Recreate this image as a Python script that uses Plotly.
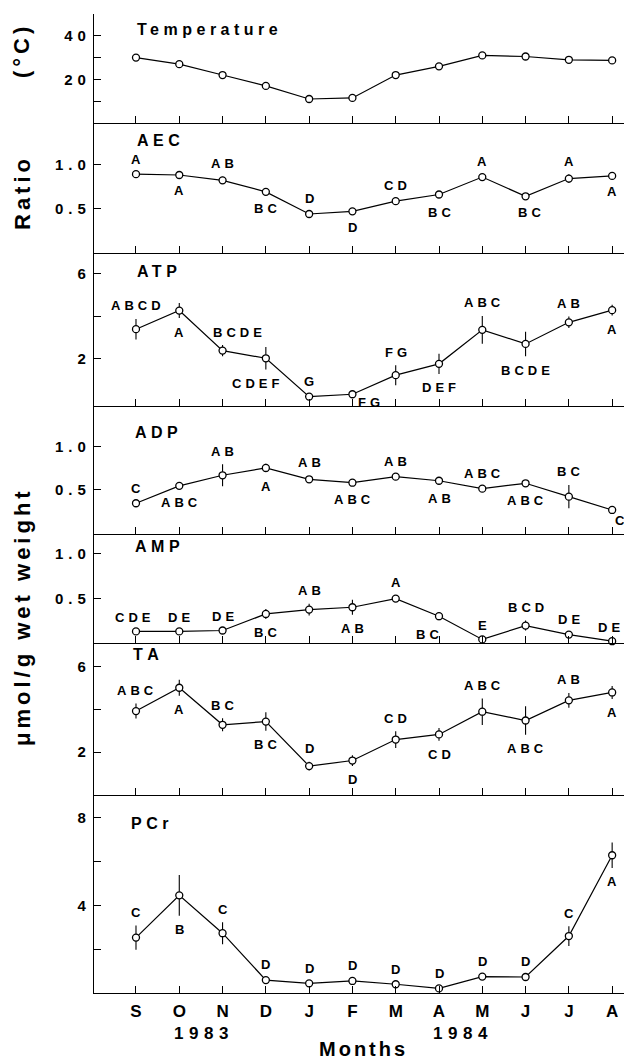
import plotly.graph_objects as go

# ---------------- data ----------------
months = ["S", "O", "N", "D", "J", "F", "M", "A", "M", "J", "J", "A"]
years = ["1983", "1984"]

temperature = [30, 27, 22, 17, 11, 11.5, 22, 26, 31, 30.5, 29, 28.7]

aec = [0.89, 0.88, 0.82, 0.69, 0.44, 0.47, 0.585, 0.66, 0.857, 0.64, 0.84, 0.87]
aec_err = [0.02, 0.02, 0.04, 0.03, 0.03, 0.02, 0.03, 0.04, 0.03, 0.03, 0.05, 0.02]
aec_letters = ["A", "A", "AB", "BC", "D", "D", "CD", "BC", "A", "BC", "A", "A"]

atp = [3.39, 4.26, 2.39, 2.03, 0.24, 0.35, 1.24, 1.77, 3.36, 2.70, 3.71, 4.28]
atp_err = [0.48, 0.35, 0.26, 0.53, 0.08, 0.10, 0.47, 0.47, 0.65, 0.57, 0.27, 0.25]
atp_letters = ["ABCD", "A", "BCDE", "CDEF", "G", "FG", "FG", "DEF", "ABC", "BCDE", "AB", "A"]

adp = [0.336, 0.54, 0.664, 0.75, 0.617, 0.577, 0.648, 0.60, 0.507, 0.57, 0.413, 0.257]
adp_err = [0.02, 0.03, 0.13, 0.05, 0.04, 0.03, 0.03, 0.04, 0.02, 0.04, 0.137, 0.02]
adp_letters = ["C", "ABC", "AB", "A", "AB", "ABC", "AB", "AB", "ABC", "ABC", "BC", "C"]

amp = [0.13, 0.13, 0.14, 0.325, 0.374, 0.40, 0.497, 0.30, 0.04, 0.195, 0.094, 0.02]
amp_err = [0.01, 0.01, 0.01, 0.056, 0.065, 0.084, 0.03, 0.045, 0.01, 0.056, 0.02, 0.01]
amp_letters = ["CDE", "DE", "DE", "BC", "AB", "AB", "A", "BC", "E", "BCD", "DE", "DE"]

ta = [3.92, 5.01, 3.28, 3.43, 1.35, 1.61, 2.59, 2.83, 3.89, 3.48, 4.42, 4.79]
ta_err = [0.35, 0.37, 0.30, 0.43, 0.20, 0.25, 0.39, 0.30, 0.62, 0.66, 0.35, 0.30]
ta_letters = ["ABC", "A", "BC", "BC", "D", "D", "CD", "CD", "ABC", "ABC", "AB", "A"]

pcr = [2.53, 4.46, 2.73, 0.59, 0.44, 0.55, 0.40, 0.21, 0.75, 0.73, 2.60, 6.29]
pcr_err = [0.55, 0.93, 0.50, 0.10, 0.10, 0.10, 0.10, 0.10, 0.10, 0.10, 0.45, 0.58]
pcr_letters = ["C", "B", "C", "D", "D", "D", "D", "D", "D", "D", "C", "A"]

# ---------------- layout helpers (page pixel coordinates) ----------------
OFF = 8                       # default body margin of the html page
PAGE_W, PAGE_H = 632, 1063
W, H = PAGE_W - OFF, PAGE_H - OFF
PLOT_L, PLOT_R, PLOT_T, PLOT_B = 94, 626, 14, 993   # page px
ML = PLOT_L - OFF
MT = PLOT_T - OFF
MR = (OFF + W) - PLOT_R
MB = (OFF + H) - PLOT_B
PW = PLOT_R - PLOT_L
PH = PLOT_B - PLOT_T
FONT = "Liberation Sans, Arial, sans-serif"
XR = [-0.97, 11.32]

ALT = ["a", "b"] * 6


def spaced(text, ls):
    if len(text) <= 1:
        return text
    return '<span style="letter-spacing:%gpx">%s</span>%s' % (ls, text[:-1], text[-1])


def px_x(px):
    return (px - PLOT_L) / PW


def px_y(py):
    return (PLOT_B - py) / PH


panels = [
    dict(name="Temperature", y=temperature, err=None, letters=None, sides=None,
         top=14, bot=123, rng=[0, 50], tv=[10, 20, 30, 40, 50], tt=["", "20", "", "40", ""],
         lab=(135, 30)),
    dict(name="AEC", y=aec, err=aec_err, letters=aec_letters, sides=ALT,
         top=123, bot=253, rng=[0, 1.467], tv=[0.5, 1.0], tt=["0.5", "1.0"],
         lab=(135, 140), dx={9: 4}),
    dict(name="ATP", y=atp, err=atp_err, letters=atp_letters, sides=ALT,
         top=253, bot=406, rng=[-0.2, 6.95], tv=[2, 4, 6], tt=["2", "", "6"],
         lab=(135, 271), dx={2: 15, 3: -10, 5: 17}, dy={5: -8}),
    dict(name="ADP", y=adp, err=adp_err, letters=adp_letters, sides=ALT,
         top=406, bot=534, rng=[-0.025, 1.477], tv=[0.5, 1.0], tt=["0.5", "1.0"],
         lab=(133, 432), dx={11: 8}, dy={11: -11}),
    dict(name="AMP", y=amp, err=amp_err, letters=amp_letters,
         sides=["a", "a", "a", "b", "a", "b", "a", "b", "a", "a", "a", "a"],
         top=534, bot=643, rng=[0, 1.22], tv=[0.5, 1.0], tt=["0.5", "1.0"],
         lab=(133, 546), dx={0: -3, 7: -12, 11: -3}),
    dict(name="TA", y=ta, err=ta_err, letters=ta_letters, sides=ALT,
         top=643, bot=795, rng=[0, 7.1], tv=[2, 4, 6], tt=["2", "", "6"],
         lab=(131, 654)),
    dict(name="PCr", y=pcr, err=pcr_err, letters=pcr_letters,
         sides=["a", "b", "a", "a", "a", "a", "a", "a", "a", "a", "a", "b"],
         top=795, bot=PLOT_B, rng=[0, 9.04], tv=[2, 4, 6, 8], tt=["", "4", "", "8"],
         lab=(129, 823)),
]

fig = go.Figure()
annotations = []
layout = {}
xs = list(range(len(months)))
n = len(panels)

for i, p in enumerate(panels, start=1):
    xa = "x" if i == 1 else "x%d" % i
    ya = "y" if i == 1 else "y%d" % i
    kx = "xaxis" if i == 1 else "xaxis%d" % i
    ky = "yaxis" if i == 1 else "yaxis%d" % i

    err = dict(type="data", array=p["err"], visible=True, color="black",
               thickness=1.1, width=0) if p["err"] else None
    fig.add_trace(go.Scatter(
        x=xs, y=p["y"], xaxis=xa, yaxis=ya, mode="lines+markers",
        line=dict(color="black", width=1.2),
        marker=dict(symbol="circle", size=7, color="white",
                    line=dict(color="black", width=1.3)),
        error_y=err, showlegend=False, cliponaxis=False,
    ))

    last = i == n
    layout[kx] = dict(
        domain=[0, 1], anchor=ya, range=XR, tickmode="array", tickvals=xs,
        ticktext=months, showticklabels=last, ticks="inside", ticklen=7,
        tickwidth=1.1, tickcolor="black", showline=True, linecolor="black",
        linewidth=1.2, showgrid=False, zeroline=False, fixedrange=True,
        tickfont=dict(family=FONT, size=17, color="black", weight="bold"),
        ticklabelstandoff=2,
    )
    layout[ky] = dict(
        domain=[px_y(p["bot"]), px_y(p["top"])], anchor=xa, range=p["rng"],
        tickmode="array", tickvals=p["tv"], ticktext=[spaced(t, 5) for t in p["tt"]],
        ticks="inside", ticklen=7, tickwidth=1.1, tickcolor="black",
        showline=True, mirror=True, linecolor="black", linewidth=1.2,
        showgrid=False, zeroline=False, fixedrange=True,
        tickfont=dict(family=FONT, size=15, color="black", weight="bold"),
        ticklabelstandoff=4,
    )

    # panel title
    annotations.append(dict(
        xref="paper", yref="paper", x=px_x(p["lab"][0]), y=px_y(p["lab"][1]),
        xanchor="left", yanchor="middle", showarrow=False,
        text=spaced(p["name"], 4.5),
        font=dict(family=FONT, size=16, color="black", weight="bold"),
    ))

    # significance letters
    if p["letters"]:
        ppu = (p["bot"] - p["top"]) / (p["rng"][1] - p["rng"][0])
        dxs = p.get("dx", {})
        dys = p.get("dy", {})
        for j, (val, e, lt, sd) in enumerate(zip(p["y"], p["err"], p["letters"], p["sides"])):
            off = e * ppu
            ys = off + 13 if sd == "a" else -(off + 14)
            if j in dys:
                ys = dys[j]
            annotations.append(dict(
                xref=xa, yref=ya, x=j, y=val, xshift=dxs.get(j, 0), yshift=ys,
                xanchor="center", yanchor="middle", showarrow=False,
                text=spaced(lt, 4),
                font=dict(family=FONT, size=13, color="black", weight="bold"),
            ))

# axis titles
axis_titles = [("(°C)", 53), ("Ratio", 195), ("μmol/g wet weight", 619)]
for txt, cy in axis_titles:
    annotations.append(dict(
        xref="paper", yref="paper", x=px_x(22), y=px_y(cy), xanchor="center",
        yanchor="middle", textangle=-90, showarrow=False, text=spaced(txt, 4),
        font=dict(family=FONT, size=22, color="black", weight="bold"),
    ))

# year labels and x title
last_x = "x%d" % n
for yr, xc in zip(years, [1.5, 7.5]):
    annotations.append(dict(
        xref=last_x, yref="paper", x=xc, y=px_y(1033), xanchor="center",
        yanchor="middle", showarrow=False, text=spaced(yr, 5.5),
        font=dict(family=FONT, size=17, color="black", weight="bold"),
    ))
annotations.append(dict(
    xref="paper", yref="paper", x=px_x(362), y=px_y(1062), xanchor="center",
    yanchor="bottom", showarrow=False, text=spaced("Months", 3),
    font=dict(family=FONT, size=20, color="black", weight="bold"),
))

fig.update_layout(
    width=W, height=H, margin=dict(l=ML, r=MR, t=MT, b=MB, autoexpand=False),
    paper_bgcolor="white", plot_bgcolor="white", annotations=annotations,
    **layout,
)

fig.write_html("out.html")
